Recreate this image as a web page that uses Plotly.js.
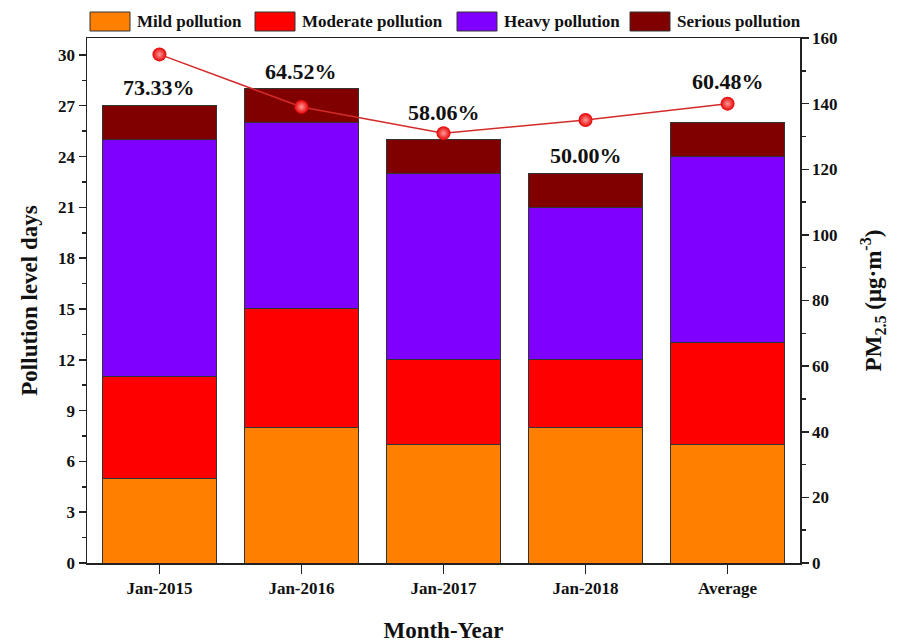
<!DOCTYPE html>
<html><head><meta charset="utf-8">
<script src="https://cdn.plot.ly/plotly-3.0.1.min.js"></script>
<style>body{margin:0;background:#fff}#chart{width:900px;height:643px}</style>
</head><body><div id="chart"></div>
<script>
const categories = ["Jan-2015","Jan-2016","Jan-2017","Jan-2018","Average"];
const seriesNames = ["Mild pollution","Moderate pollution","Heavy pollution","Serious pollution"];
const mild = [5, 8, 7, 8, 7];
const moderate = [6, 7, 5, 4, 6];
const heavy = [14, 11, 11, 9, 11];
const serious = [2, 2, 2, 2, 2];
const pm25 = [155, 139, 131, 135, 140];
const pctLabels = ["73.33%","64.52%","58.06%","50.00%","60.48%"];

const FONT = "Liberation Serif, Times New Roman, serif";
const lineCol = "#222";
const colors = ["#ff8000","#ff0000","#8000ff","#800000"];
const seriesData = [mild, moderate, heavy, serious];

const traces = seriesData.map((y,k)=>({type:"bar", name:seriesNames[k], x:categories, y:y,
    marker:{color:colors[k], line:{color:"#333", width:1}}, showlegend:false}));
traces.push({type:"scatter", mode:"lines+markers", x:categories, y:pm25, yaxis:"y2",
   showlegend:false, line:{color:"#d42a2a", width:1.5},
   marker:{size:14, color:"#e60000", gradient:{type:"radial", color:"#ff9a9a"}, line:{width:0}}});

const totals = categories.map((c,i)=>mild[i]+moderate[i]+heavy[i]+serious[i]);
// label offsets (px) so labels clear the PM2.5 line, as in the reference
const labelShift = [4, 3, 13, 3, 27];
const annotations = categories.map((c,i)=>({
  x:c, y:totals[i], xref:"x", yref:"y", text:pctLabels[i], showarrow:false,
  yanchor:"bottom", yshift:labelShift[i], font:{family:FONT, size:22, color:"#111", weight:"bold"}
}));
// custom legend (large rectangular swatches)
const legX = [90, 255, 457, 630];   // swatch left edges in px
const shapes = [];
seriesNames.forEach((n,k)=>{
  const x0 = (legX[k]-87)/713;
  const x1 = (legX[k]+40-87)/713;
  shapes.push({type:"rect", xref:"paper", yref:"paper", x0:x0, x1:x1,
    y0:(563-31)/525, y1:(563-12)/525, fillcolor:colors[k], line:{color:"#333", width:1}});
  annotations.push({xref:"paper", yref:"paper", x:(legX[k]+45-87)/713, y:(563-22)/525,
    xanchor:"left", yanchor:"middle", text:n, showarrow:false,
    font:{family:FONT, size:17, color:"#111", weight:"bold"}});
});

const layout = {
  width:900, height:643,
  margin:{l:87, r:100, t:38, b:80, autoexpand:false},
  paper_bgcolor:"#fff", plot_bgcolor:"#fff",
  barmode:"stack", bargap:0.2,
  font:{family:FONT, color:"#111"},
  showlegend:false,
  xaxis:{range:[-0.51,4.51], showline:true, linecolor:lineCol, linewidth:1.5, mirror:true,
    ticks:"outside", ticklen:9, tickcolor:lineCol, tickwidth:1.5,
    tickfont:{family:FONT, size:17, weight:"bold"},
    title:{text:"Month-Year", font:{family:FONT, size:23, weight:"bold"}, standoff:28},
    showgrid:false, zeroline:false},
  yaxis:{range:[0,31], dtick:3, tick0:0, showline:true, linecolor:lineCol, linewidth:1.5,
    ticks:"outside", ticklen:7, tickcolor:lineCol, tickwidth:1.5,
    minor:{dtick:1.5, ticks:"outside", ticklen:4, tickcolor:lineCol, showgrid:false},
    tickfont:{family:FONT, size:17, weight:"bold"},
    title:{text:"Pollution level days", font:{family:FONT, size:23, weight:"bold"}, standoff:14},
    showgrid:false, zeroline:false},
  yaxis2:{overlaying:"y", side:"right", range:[0,160], dtick:20, showline:true,
    linecolor:lineCol, linewidth:1.5, ticks:"outside", ticklen:7, tickcolor:lineCol, tickwidth:1.5,
    minor:{dtick:10, ticks:"outside", ticklen:4, tickcolor:lineCol, showgrid:false},
    tickfont:{family:FONT, size:17, weight:"bold"},
    title:{text:"PM<sub>2.5</sub> (μg·m<sup>-3</sup>)", font:{family:FONT, size:23, weight:"bold"}, standoff:28},
    showgrid:false, zeroline:false},
  shapes:shapes,
  annotations:annotations
};
Plotly.newPlot("chart", traces, layout, {displayModeBar:false, staticPlot:true});
</script>
</body></html>
